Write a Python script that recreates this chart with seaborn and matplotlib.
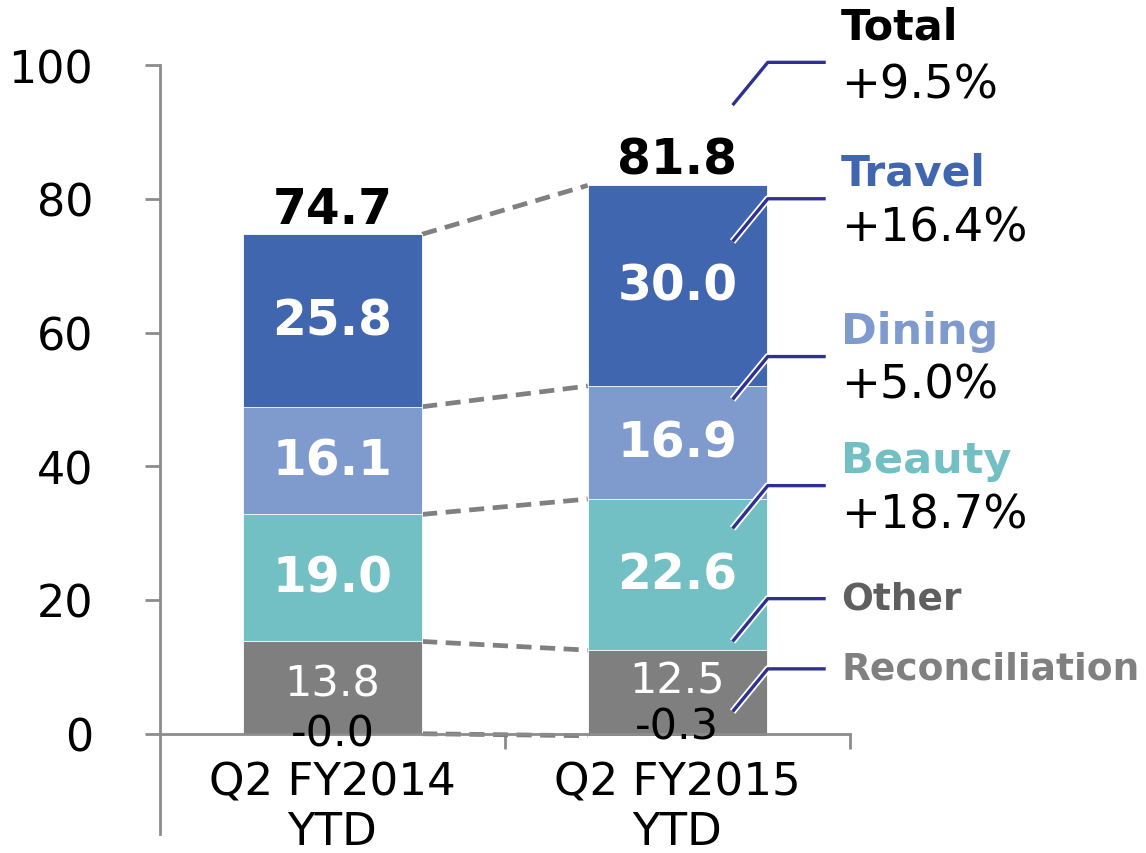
import numpy as np
import matplotlib
matplotlib.use('Agg')
import matplotlib.pyplot as plt
import matplotlib.patheffects as pe
import seaborn as sns

# --- data ---
periods = ['Q2 FY2014\nYTD', 'Q2 FY2015\nYTD']
reconciliation = [-0.0, -0.3]
other = [13.8, 12.5]
beauty = [19.0, 22.6]
dining = [16.1, 16.9]
travel = [25.8, 30.0]
totals = [74.7, 81.8]

segment_names = ['Other', 'Beauty', 'Dining', 'Travel']
segment_values = [other, beauty, dining, travel]
segment_colors = ['#7F7F7F', '#72BFC4', '#7F9ACC', '#4166B0']

growth_names = ['Total', 'Travel', 'Dining', 'Beauty', 'Other', 'Reconciliation']
growth_pcts = ['+9.5%', '+16.4%', '+5.0%', '+18.7%', '', '']
growth_colors = ['#000000', '#4166B0', '#7F9ACC', '#72BFC4', '#5F5F5F', '#808080']

sns.set_style('white')
plt.rcParams['font.family'] = 'DejaVu Sans'

GREY = '#8C8C8C'
NAVY = '#2E3192'
BAR_W = 0.52

fig = plt.figure(figsize=(11.46, 8.54), dpi=100)
ax = fig.add_axes([0.1396, 0.0222, 0.602, 0.9005])

# stacked bars: draw cumulative heights from the top segment down
cum = np.cumsum(np.array(segment_values), axis=0)
for i in reversed(range(len(segment_names))):
    sns.barplot(x=periods, y=cum[i], color=segment_colors[i], width=BAR_W,
                saturation=1, errorbar=None, edgecolor='white', linewidth=0.6,
                ax=ax, zorder=2)
sns.barplot(x=periods, y=reconciliation, color='#7F7F7F', width=BAR_W,
            saturation=1, errorbar=None, linewidth=0, ax=ax, zorder=2)

# segment value labels
bottoms = np.vstack([np.zeros(2), cum[:-1]])
other_dy = [0.6, 1.7]
for i, vals in enumerate(segment_values):
    for j, v in enumerate(vals):
        yc = bottoms[i][j] + v / 2
        if segment_names[i] == 'Other':
            ax.text(j, yc + other_dy[j], f'{v:.1f}', ha='center', va='center',
                    color='white', fontsize=31, zorder=5)
        else:
            ax.text(j, yc, f'{v:.1f}', ha='center', va='center',
                    color='white', fontsize=35, fontweight='bold', zorder=5)
recon_dy = [0.0, 1.3]
for j, v in enumerate(reconciliation):
    ax.text(j, v / 2 + recon_dy[j], f'{v:.1f}', ha='center', va='center',
            color='black', fontsize=31, zorder=5)

# totals above bars
for j, t in enumerate(totals):
    ax.annotate(f'{t:.1f}', (j, cum[-1][j]), xytext=(0, 1),
                textcoords='offset points', ha='center', va='bottom',
                fontsize=35, fontweight='bold', color='black')

# dashed connectors between bars
levels = np.vstack([np.array(reconciliation), cum])
for lv in levels:
    ax.plot([BAR_W / 2, 1 - BAR_W / 2], [lv[0], lv[1]], color='#808080',
            lw=3.4, ls=(0, (3.2, 1.8)), zorder=1, clip_on=False)

# leader lines and growth labels on the right
leader_y = [100.4, 80.0, 56.4, 37.1, 20.2, 9.7]
name_sizes = [31, 30.5, 31, 31, 27, 27]
name_dy = [17, 10, 10, 10]
pct_dy = [0, -5, -4, -5]
for k, (name, pct, col, y, fs) in enumerate(zip(growth_names, growth_pcts,
                                                growth_colors, leader_y, name_sizes)):
    ax.plot([1.16, 1.262, 1.43], [y - 6.4, y, y], color=NAVY, lw=2.4,
            solid_capstyle='butt', clip_on=False, zorder=6,
            path_effects=[pe.Stroke(linewidth=5, foreground='white'), pe.Normal()])
    if pct:
        ax.annotate(name, (1.475, y), xytext=(0, name_dy[k]),
                    textcoords='offset points', ha='left', va='baseline',
                    fontsize=fs, fontweight='bold', color=col,
                    annotation_clip=False)
        ax.annotate(pct, (1.475, y), xytext=(0, pct_dy[k]),
                    textcoords='offset points', ha='left', va='top',
                    fontsize=33.5, color='black', annotation_clip=False)
    else:
        ax.annotate(name, (1.475, y), xytext=(0, 0), textcoords='offset points',
                    ha='left', va='center', fontsize=fs, fontweight='bold',
                    color=col, annotation_clip=False)

# axes styling
ax.set_xlim(-0.5, 1.5)
ax.set_ylim(-15, 100)
ax.set_yticks([0, 20, 40, 60, 80, 100])
ax.set_xticks([0, 1])
ax.set_xticklabels(periods, linespacing=1.12)
ax.set_xticks([0.5, 1.5], minor=True)
ax.set_xlabel('')
ax.set_ylabel('')
for s in ['top', 'right']:
    ax.spines[s].set_visible(False)
ax.spines['bottom'].set_position(('data', 0))
for s in ['left', 'bottom']:
    ax.spines[s].set_color(GREY)
    ax.spines[s].set_linewidth(2)
ax.tick_params(axis='y', labelsize=32, labelcolor='black', length=11, width=2,
               color=GREY, pad=37, left=True)
ax.tick_params(axis='x', which='major', length=0, pad=19, labelsize=32.5,
               labelcolor='black')
ax.tick_params(axis='x', which='minor', length=11, width=2, color=GREY,
               bottom=True)

fig.savefig('out.png', dpi=100)
